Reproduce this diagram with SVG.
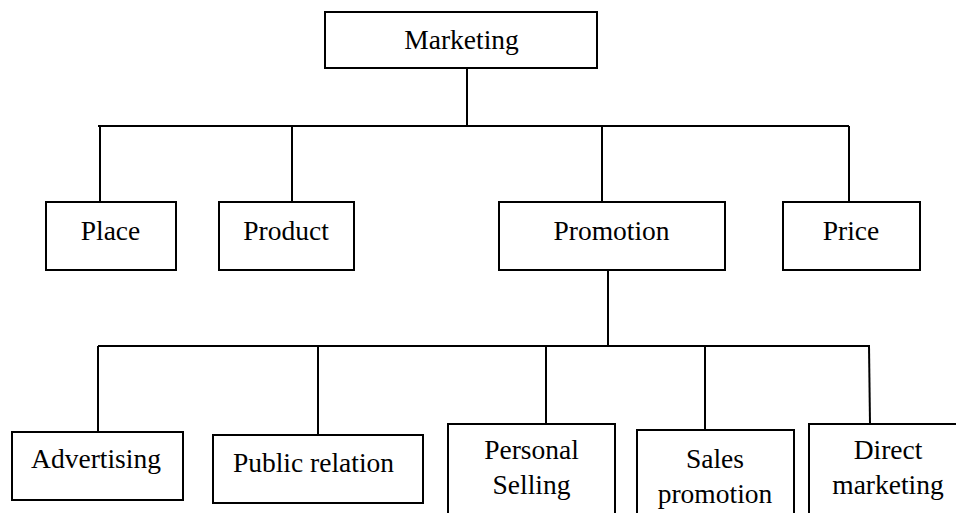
<svg xmlns="http://www.w3.org/2000/svg" width="956" height="513" viewBox="0 0 956 513">
  <style>
    .box { fill: #ffffff; stroke: #000000; stroke-width: 2; }
    .link { fill: none; stroke: #000000; stroke-width: 2; }
    text { font-family: "Liberation Serif", "Times New Roman", serif; font-size: 27.5px; fill: #000000; text-anchor: middle; }
  </style>
  <rect width="956" height="513" fill="#ffffff"/>

  <!-- tree connectors -->
  <g id="connectors">
    <path class="link" d="M467 68 V126"/>
    <path class="link" d="M98 126 H849"/>
    <path class="link" d="M100 127 V202"/>
    <path class="link" d="M292 127 V202"/>
    <path class="link" d="M602 126 V202"/>
    <path class="link" d="M849 126 V202"/>
    <path class="link" d="M608 268 V346"/>
    <path class="link" d="M98 346 H870"/>
    <path class="link" d="M98 346 V432"/>
    <path class="link" d="M318 346 V435"/>
    <path class="link" d="M546 346 V424"/>
    <path class="link" d="M705 346 V430"/>
    <path class="link" d="M869 346 L870 424"/>
  </g>

  <g id="marketing">
    <rect class="box" x="325" y="12" width="272" height="56"/>
    <text x="461.5" y="49">Marketing</text>
  </g>

  <g id="place">
    <rect class="box" x="46" y="202" width="130" height="68"/>
    <text x="110.5" y="240">Place</text>
  </g>

  <g id="product">
    <rect class="box" x="219" y="202" width="135" height="68"/>
    <text x="286" y="240">Product</text>
  </g>

  <g id="promotion">
    <rect class="box" x="499" y="202" width="226" height="68"/>
    <text x="611.5" y="240">Promotion</text>
  </g>

  <g id="price">
    <rect class="box" x="783" y="202" width="137" height="68"/>
    <text x="851" y="240">Price</text>
  </g>

  <g id="advertising">
    <rect class="box" x="12" y="432" width="171" height="68"/>
    <text x="96" y="468">Advertising</text>
  </g>

  <g id="public-relation">
    <rect class="box" x="213" y="435" width="210" height="68"/>
    <text x="313.5" y="472">Public relation</text>
  </g>

  <g id="personal-selling">
    <rect class="box" x="448" y="424" width="167" height="100"/>
    <text x="531.5" y="459">Personal</text>
    <text x="531.5" y="494">Selling</text>
  </g>

  <g id="sales-promotion">
    <rect class="box" x="637" y="430" width="157" height="100"/>
    <text x="715" y="468">Sales</text>
    <text x="715" y="503">promotion</text>
  </g>

  <g id="direct-marketing">
    <rect class="box" x="809" y="424" width="170" height="100"/>
    <text x="888" y="459">Direct</text>
    <text x="888" y="494">marketing</text>
  </g>
</svg>
